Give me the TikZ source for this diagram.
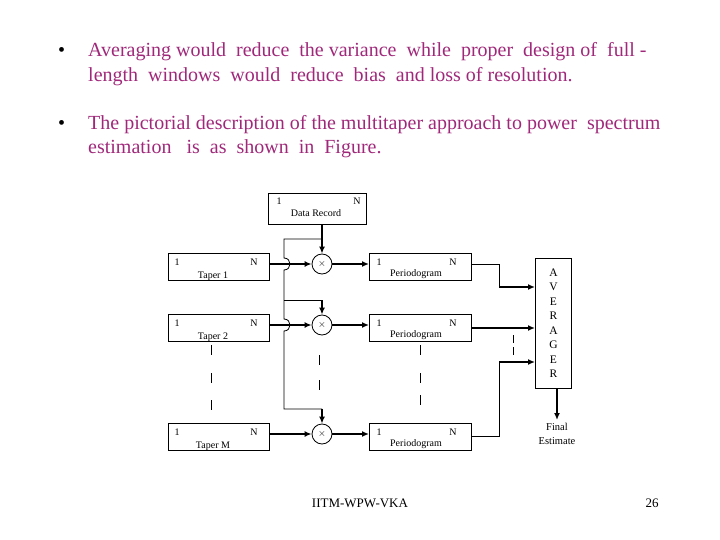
\documentclass[tikz,border=0pt]{standalone}
\usepackage{fontspec}
\setmainfont{Liberation Serif}
\usetikzlibrary{arrows.meta}
\definecolor{bul}{HTML}{A0287A}
\begin{document}
\begin{tikzpicture}[x=1pt,y=-1pt,
  blk/.style={draw,line width=0.8pt,minimum width=#1,minimum height=27,inner sep=0,anchor=north west},
  mul/.style={draw,line width=0.8pt,circle,minimum size=20,inner sep=0},
  arr/.style={line width=2pt,-{Latex[length=7pt,width=6pt]}},
  ln/.style={line width=0.8pt},
  sm/.style={font=\fontsize{10}{11}\selectfont,inner sep=0},
  bt/.style={font=\fontsize{20}{22}\selectfont,color=bul,anchor=west,inner sep=0}]
\useasboundingbox (0,0) rectangle (720,540);
% bullets
\node[bt,color=black] (b1) at (58,52) {•};
\node[bt] (t1) at (88,52) {Averaging would\ \ reduce\ \ the variance\ \ while\ \ proper\ \ design\ of\ \ full -};
\node[bt] (t2) at (88,77) {length\ \ windows\ \ would\ \ reduce\ \ bias\ \ and loss of resolution.};
\node[bt,color=black] (b2) at (58,125) {•};
\node[bt] (t3) at (88,125) {The pictorial description of the multitaper approach to power\ \ spectrum};
\node[bt] (t4) at (88,149) {estimation\ \ \ is\ \ as\ \ shown\ \ in\ \ Figure.};
% data record
\node[blk=98,minimum height=31] (dr) at (268,193) {};
\node[sm] at (279,201) {1}; \node[sm] at (357,201) {N};
\node[sm] at (316,213) {Data Record};
% tapers
\foreach \n/\y/\lab in {1/253/Taper 1,2/314/Taper 2,3/423/Taper M}{
  \node[blk=101] (tp\n) at (168,\y) {};
  \node[sm] at (177,\y+9) {1}; \node[sm] at (254,\y+9) {N};
  \node[sm] at (213,\y+23) {\lab};
  \node[blk=102] (pg\n) at (369,\y) {};
  \node[sm] at (379,\y+9) {1}; \node[sm] at (453,\y+9) {N};
  \node[sm] at (416,\y+21) {Periodogram};
  \node[mul] (m\n) at (322,\y+11) {$\times$};
}
% averager
\node[draw,line width=0.8pt,minimum width=36,minimum height=130,inner sep=0,anchor=north west] (av) at (535,258) {};
\node[font=\fontsize{11.5}{14.5}\selectfont,align=center] at (av.center) {A\\V\\E\\R\\A\\G\\E\\R};
\node[font=\fontsize{10.5}{13.5}\selectfont,align=center] (fe) at (557,434) {Final\\Estimate};
% data bus
\coordinate (bt) at (284,239);
\coordinate (bb) at (284,409);
\draw[ln] (322,239) -- (bt) -- (284,258) .. controls (292,258) and (292,270) .. (284,270)
  -- (284,319) .. controls (292,319) and (292,331) .. (284,331) -- (bb) -- (322,409);
\draw[ln] (284,300) -- (322,300);
\draw[arr] (dr.south -| m1) -- (m1.north);
\draw[arr] (322,300) -- (m2.north);
\draw[arr] (322,409) -- (m3.north);
% taper->mult->periodogram
\foreach \n in {1,2,3}{
  \draw[arr] (tp\n.east |- m\n) -- (m\n.west);
  \draw[arr] (m\n.east) -- (pg\n.west |- m\n);
}
% to averager
\draw[ln] (pg1.east |- 0,264) -- (499,264) -- (499,287);
\draw[arr] (499,287) -- (av.west |- 0,287);
\draw[arr] (pg2.east |- 0,328) -- (av.west |- 0,328);
\draw[ln] (pg3.east |- 0,436) -- (499,436) -- (499,362);
\draw[arr] (499,362) -- (av.west |- 0,362);
\draw[arr] (av.south -| fe) -- (fe.north);
% dashes
\draw[ln] (211,345)--(211,355) (211,373)--(211,383) (211,400)--(211,410);
\draw[ln] (319,355)--(319,365) (319,380)--(319,390);
\draw[ln] (420,345)--(420,355) (420,373)--(420,383) (420,395)--(420,405);
\draw[ln] (513,335)--(513,343) (513,347)--(513,355);
% footer
\node[font=\fontsize{13}{14}\selectfont] (ft) at (360,503) {IITM-WPW-VKA};
\node[font=\fontsize{13}{14}\selectfont] (pn) at (652,503) {26};
\end{tikzpicture}
\end{document}
